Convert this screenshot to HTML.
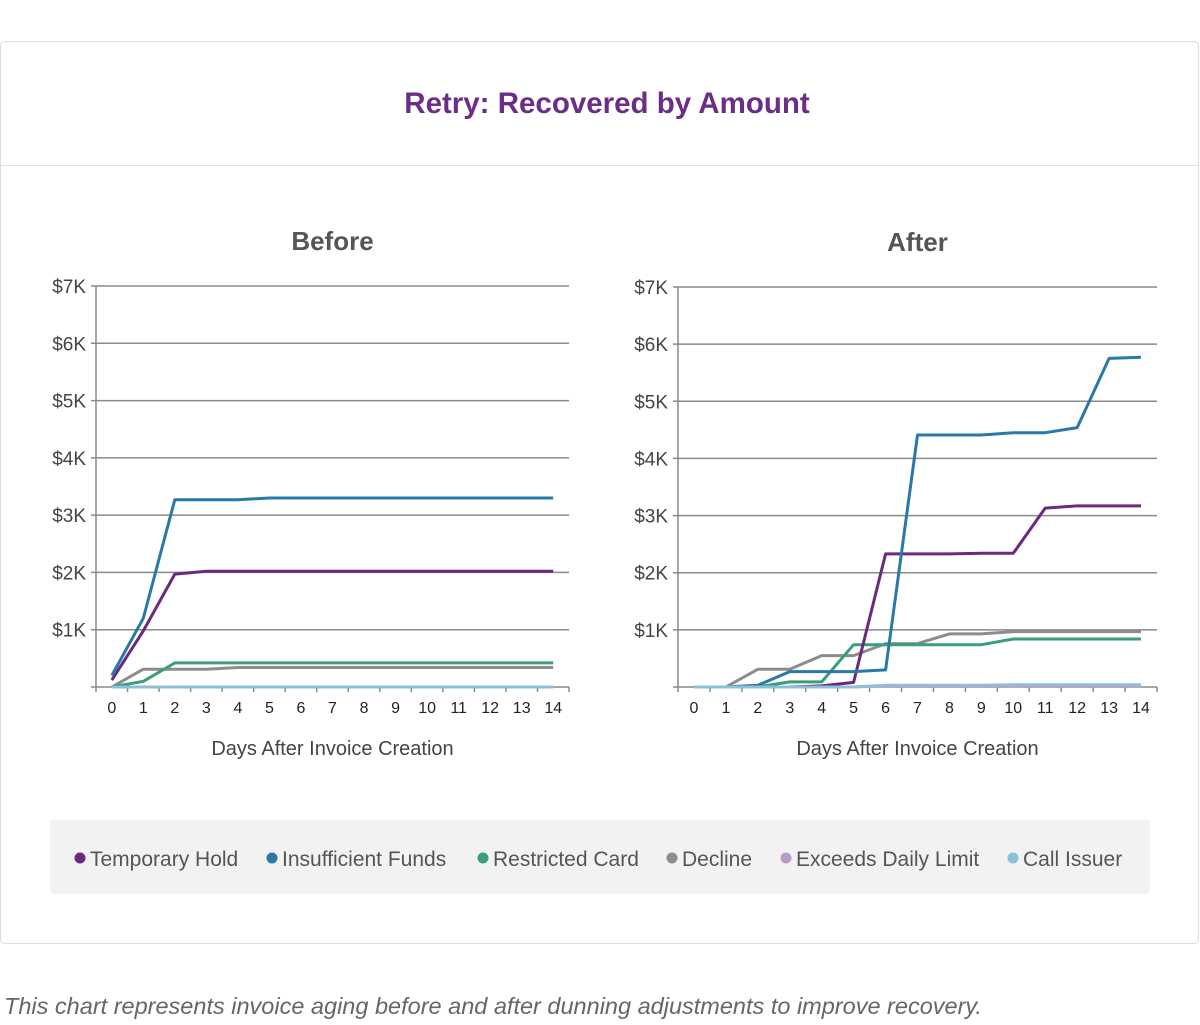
<!DOCTYPE html>
<html><head><meta charset="utf-8"><style>
body{margin:0;background:#fff;width:1200px;height:1020px;overflow:hidden;font-family:"Liberation Sans",sans-serif}
svg text{font-family:"Liberation Sans",sans-serif}
</style></head><body>
<svg id="s" width="1200" height="1020">
<rect x="0.5" y="41.5" width="1198" height="902" rx="4" fill="#fff" stroke="#dcdcdc"/>
<line x1="1" x2="1198" y1="165.5" y2="165.5" stroke="#e0e0e0"/>
<text x="607" y="113" text-anchor="middle" font-size="29.5" font-weight="bold" fill="#6b2d86">Retry: Recovered by Amount</text>
<rect x="50" y="820" width="1100" height="74" rx="4" fill="#f2f2f2"/>
<text x="4" y="1014" font-size="23.5" font-style="italic" fill="#666">This chart represents invoice aging before and after dunning adjustments to improve recovery.</text>
<g id="legend"></g>
</svg>
<script>
const categories=[0,1,2,3,4,5,6,7,8,9,10,11,12,13,14];
const yTicks=[1,2,3,4,5,6,7];
const yTickLabels=["$1K","$2K","$3K","$4K","$5K","$6K","$7K"];
const seriesNames=["Temporary Hold","Insufficient Funds","Restricted Card","Decline","Exceeds Daily Limit","Call Issuer"];
const seriesColors=["#6b2a80","#2a78a8","#3a9e7a","#8c8c8c","#b99bc9","#8dbfd8"];
const beforeTemporaryHold=[0.12,0.98,1.97,2.02,2.02,2.02,2.02,2.02,2.02,2.02,2.02,2.02,2.02,2.02,2.02];
const beforeInsufficientFunds=[0.2,1.2,3.27,3.27,3.27,3.3,3.3,3.3,3.3,3.3,3.3,3.3,3.3,3.3,3.3];
const beforeRestrictedCard=[0,0.1,0.42,0.42,0.42,0.42,0.42,0.42,0.42,0.42,0.42,0.42,0.42,0.42,0.42];
const beforeDecline=[0,0.31,0.31,0.31,0.34,0.34,0.34,0.34,0.34,0.34,0.34,0.34,0.34,0.34,0.34];
const beforeExceedsDailyLimit=[0,0,0,0,0,0,0,0,0,0,0,0,0,0,0];
const beforeCallIssuer=[0,0,0,0,0,0,0,0,0,0,0,0,0,0,0];
const afterTemporaryHold=[0,0,0,0,0.02,0.08,2.33,2.33,2.33,2.34,2.34,3.13,3.17,3.17,3.17];
const afterInsufficientFunds=[0,0,0.03,0.27,0.27,0.27,0.3,4.41,4.41,4.41,4.45,4.45,4.54,5.75,5.77];
const afterRestrictedCard=[0,0,0,0.09,0.09,0.74,0.74,0.74,0.74,0.74,0.84,0.84,0.84,0.84,0.84];
const afterDecline=[0,0,0.31,0.31,0.55,0.55,0.76,0.76,0.93,0.93,0.97,0.97,0.97,0.97,0.97];
const afterExceedsDailyLimit=[0,0,0,0,0,0,0.02,0.02,0.02,0.02,0.02,0.02,0.02,0.02,0.02];
const afterCallIssuer=[0,0,0,0,0,0,0.03,0.03,0.03,0.03,0.04,0.04,0.04,0.04,0.04];
const NS="http://www.w3.org/2000/svg";
const svg=document.getElementById('s');
function mk(t,a,p){const e=document.createElementNS(NS,t);for(const k in a)e.setAttribute(k,a[k]);(p||svg).appendChild(e);return e;}
function panel(key,title,left,right,top,bottom,data){
  const g=mk('g',{});
  
  
  const bw=(right-left)/categories.length;
  const x=i=>left+bw*(i+0.5);
  const y=v=>bottom-(bottom-top)*v/7;
  const t=mk('text',{x:(left+right)/2,y:top-36,'text-anchor':'middle','font-size':26,'font-weight':'bold',fill:'#555'},g);
  t.textContent=title;
  
  
  yTicks.forEach((v,i)=>{
    const l=mk('line',{x1:left-5,x2:right,y1:y(v),y2:y(v),stroke:'#8a8a8a','stroke-width':1.5},g);
    
    
    const tl=mk('text',{x:left-10,y:y(v)+7,'text-anchor':'end','font-size':19,fill:'#444'},g);
    tl.textContent=yTickLabels[i];
    
    
  });
  const ax=mk('line',{x1:left,x2:left,y1:y(7),y2:bottom,stroke:'#8a8a8a','stroke-width':1.5},g);
  
  
  const bx=mk('line',{x1:left-5,x2:right,y1:bottom,y2:bottom,stroke:'#8a8a8a','stroke-width':1.5},g);
  
  
  for(let i=0;i<=categories.length;i++){
    mk('line',{x1:left+bw*i,x2:left+bw*i,y1:bottom,y2:bottom+5,stroke:'#8a8a8a','stroke-width':1.5},g);
  }
  categories.forEach((c,i)=>{
    const tl=mk('text',{x:x(i),y:bottom+26,'text-anchor':'middle','font-size':16,fill:'#222'},g);
    tl.textContent=c;
    
    
  });
  const xt=mk('text',{x:(left+right)/2,y:bottom+68,'text-anchor':'middle','font-size':20,fill:'#444'},g);
  xt.textContent='Days After Invoice Creation';
  
  
  const order=[3,2,0,1,4,5];
  order.forEach(s=>{
    const pts=data[s].map((v,i)=>x(i).toFixed(1)+','+y(v).toFixed(1)).join(' ');
    const pl=mk('polyline',{points:pts,fill:'none',stroke:seriesColors[s],'stroke-width':3,'stroke-linejoin':'round'},g);
    
    
  });
}
panel('before','Before',96,569,286,687,[beforeTemporaryHold,beforeInsufficientFunds,beforeRestrictedCard,beforeDecline,beforeExceedsDailyLimit,beforeCallIssuer]);
panel('after','After',678,1157,287,687,[afterTemporaryHold,afterInsufficientFunds,afterRestrictedCard,afterDecline,afterExceedsDailyLimit,afterCallIssuer]);
const lg=document.getElementById('legend');
const lx=[80,272,483,672,786,1013];
seriesNames.forEach((n,i)=>{
  const e=mk('g',{},lg);
  
  
  mk('circle',{cx:lx[i],cy:858,r:5.5,fill:seriesColors[i]},e);
  const t=mk('text',{x:lx[i]+10,y:866,'font-size':21,fill:'#555'},e);
  t.textContent=n;
});
</script>
</body></html>
